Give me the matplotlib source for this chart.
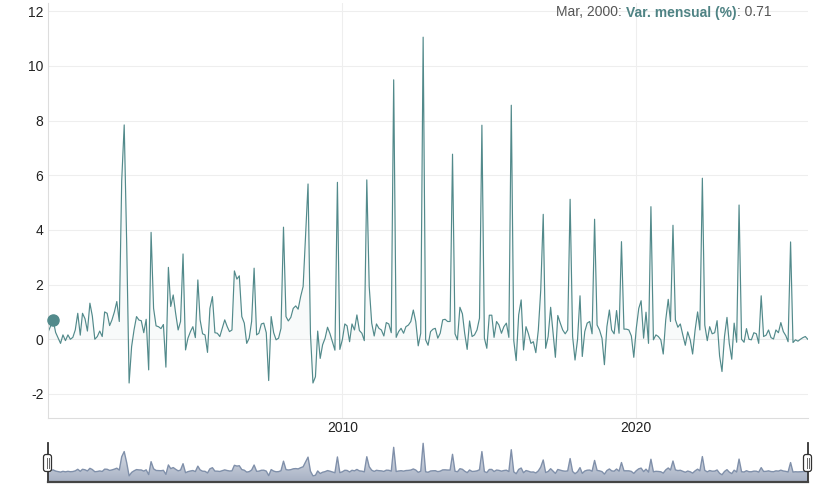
import numpy as np
import pandas as pd
import matplotlib
matplotlib.use("Agg")
import matplotlib.pyplot as plt
from matplotlib.patches import FancyBboxPatch, PathPatch
from matplotlib.colors import LinearSegmentedColormap
from matplotlib.transforms import IdentityTransform
import matplotlib.dates as mdates

plt.rcParams['font.family'] = ['Liberation Sans', 'DejaVu Sans']

# monthly change (%), one list per year, Jan..Dec
v2000 = [0.28, 0.5, 0.71, 0.25, 0.05, -0.15, 0.16, -0.05, 0.16, 0.0, 0.07, 0.34]
v2001 = [0.95, 0.15, 0.95, 0.75, 0.3, 1.32, 0.85, 0.0, 0.1, 0.3, 0.1, 1.0]
v2002 = [0.95, 0.5, 0.7, 1.0, 1.38, 0.65, 5.8, 7.84, 3.5, -1.6, -0.27, 0.34]
v2003 = [0.83, 0.7, 0.68, 0.24, 0.73, -1.12, 3.91, 1.13, 0.49, 0.46, 0.39, 0.54]
v2004 = [-1.02, 2.63, 1.2, 1.62, 0.95, 0.34, 0.65, 3.12, -0.39, 0.04, 0.28, 0.46]
v2005 = [0.06, 2.17, 0.71, 0.2, 0.16, -0.48, 1.13, 1.56, 0.24, 0.22, 0.1, 0.4]
v2006 = [0.71, 0.46, 0.28, 0.34, 2.5, 2.2, 2.32, 0.83, 0.59, -0.15, 0.04, 0.65]
v2007 = [2.6, 0.16, 0.22, 0.56, 0.59, 0.24, -1.51, 0.83, 0.24, -0.02, 0.04, 0.4]
v2008 = [4.1, 0.83, 0.67, 0.8, 1.13, 1.22, 1.1, 1.56, 1.93, 3.76, 5.68, 0.2]
v2009 = [-1.6, -1.37, 0.3, -0.7, -0.2, 0.04, 0.44, 0.2, -0.1, -0.4, 5.74, -0.37]
v2010 = [-0.02, 0.56, 0.49, -0.09, 0.56, 0.34, 0.89, 0.32, 0.22, -0.05, 5.83, 1.93]
v2011 = [0.59, 0.12, 0.56, 0.4, 0.34, 0.12, 0.61, 0.56, 0.24, 9.49, 0.07, 0.28]
v2012 = [0.4, 0.22, 0.46, 0.52, 0.65, 1.07, 0.65, -0.24, 0.22, 11.05, -0.02, -0.22]
v2013 = [0.28, 0.37, 0.4, 0.04, 0.22, 0.71, 0.73, 0.65, 0.65, 6.77, 0.2, -0.02]
v2014 = [1.17, 0.93, 0.22, -0.37, 0.67, 0.1, 0.16, 0.34, 0.77, 7.83, 0.04, -0.33]
v2015 = [0.88, 0.88, 0.07, 0.65, 0.52, 0.22, 0.46, 0.59, 0.07, 8.56, -0.05, -0.78]
v2016 = [0.89, 1.44, -0.39, 0.46, 0.2, -0.15, -0.09, -0.49, 0.34, 1.8, 4.57, -0.33]
v2017 = [0.1, 1.17, 0.3, -0.66, 0.87, 0.59, 0.34, 0.2, 0.34, 5.12, 0.1, -0.76]
v2018 = [-0.02, 1.59, -0.63, 0.28, 0.59, 0.65, 0.2, 4.39, 0.52, 0.34, 0.04, -0.93]
v2019 = [0.46, 1.07, 0.34, 0.2, 1.05, 0.22, 3.57, 0.37, 0.37, 0.34, 0.12, -0.66]
v2020 = [0.4, 1.13, 1.41, 0.04, 0.99, -0.15, 4.85, -0.02, 0.16, 0.1, -0.02, -0.54]
v2021 = [0.71, 1.46, 0.65, 4.17, 0.71, 0.44, 0.56, 0.16, -0.22, 0.27, -0.02, -0.54]
v2022 = [0.34, 1.0, 0.34, 5.89, 0.52, -0.05, 0.46, 0.2, 0.24, 0.68, -0.61, -1.18]
v2023 = [0.1, 0.8, -0.15, -0.73, 0.59, -0.11, 4.91, 0.0, -0.11, 0.39, 0.0, -0.02]
v2024 = [0.24, 0.2, -0.15, 1.59, 0.1, 0.15, 0.34, 0.06, 0.01, 0.34, 0.24, 0.61]
v2025 = [0.28, 0.13, -0.09, 3.56, -0.12, -0.02, -0.07, 0.0, 0.06, 0.1, 0.0]

years = [v2000, v2001, v2002, v2003, v2004, v2005, v2006, v2007, v2008,
         v2009, v2010, v2011, v2012, v2013, v2014, v2015, v2016, v2017,
         v2018, v2019, v2020, v2021, v2022, v2023, v2024, v2025]
var_mensual = np.array([v for yr in years for v in yr])
dates = pd.date_range("2000-01-01", periods=len(var_mensual), freq="MS")

yticks = [-2, 0, 2, 4, 6, 8, 10, 12]
xtick_years = [2010, 2020]
series_name = "Var. mensual (%)"
hl = 2  # highlighted point (Mar 2000)

teal = "#528a8b"
W, H = 825, 492

fig = plt.figure(figsize=(W / 100, H / 100), dpi=100)


def fx(px):
    return px / W


def fy(py):
    return 1 - py / H


left, right = 48.3, 807.8

# ---- main chart ----
ax = fig.add_axes([fx(left), fy(418), fx(right) - fx(left), fy(3) - fy(418)])
ax.fill_between(dates, var_mensual, 0, color=teal, alpha=0.04, lw=0)
ax.plot(dates, var_mensual, color=teal, lw=0.85)
ax.plot(dates[hl], var_mensual[hl], "o", ms=8, color=teal, zorder=5, clip_on=False)
ax.set_xlim(dates[0], dates[-1])
ax.set_ylim(-2.88, 12.3)
ax.set_yticks(yticks)
ax.set_yticklabels([str(t) for t in yticks])
ax.set_xticks([pd.Timestamp(f"{y}-01-01") for y in xtick_years])
ax.set_xticklabels([str(y) for y in xtick_years])
ax.grid(True, color="#eeeeee", lw=0.8)
ax.set_axisbelow(True)
for s in ["top", "right"]:
    ax.spines[s].set_visible(False)
for s in ["left", "bottom"]:
    ax.spines[s].set_color("#dddddd")
    ax.spines[s].set_linewidth(0.8)
ax.tick_params(axis="both", length=0, labelsize=10, labelcolor="#222222")
ax.tick_params(axis="y", pad=3.5)
ax.tick_params(axis="x", pad=2.5)

# ---- legend (hover text) ----
t1 = fig.text(fx(556), fy(16.5), "Mar, 2000:", fontsize=10, color="#555555",
              va="baseline", ha="left")
t2 = ax.annotate(series_name, xy=(1, 0), xycoords=t1, xytext=(3, 0),
                 textcoords="offset points", fontsize=10, fontweight="bold",
                 color="#4f8384", va="bottom", ha="left", annotation_clip=False)
t3 = ax.annotate(f": {var_mensual[hl]:.2f}", xy=(1, 0), xycoords=t2,
                 fontsize=10, color="#555555", va="bottom", ha="left",
                 annotation_clip=False)

# ---- range selector ----
mini_lo, mini_hi = -4.0, 11.95
ax2 = fig.add_axes([fx(left), fy(482), fx(right) - fx(left), fy(441) - fy(482)])
ax2.set_xlim(dates[0], dates[-1])
ax2.set_ylim(mini_lo, mini_hi)
ax2.axis("off")

poly = ax2.fill_between(dates, var_mensual, mini_lo, color="none", lw=0)
clip = PathPatch(poly.get_paths()[0], transform=ax2.transData,
                 facecolor="none", edgecolor="none")
ax2.add_patch(clip)
cmap = LinearSegmentedColormap.from_list("rs", ["#a6b0c3", "#e8ebf0"])
grad = np.linspace(0, 1, 256).reshape(-1, 1)
x0n, x1n = mdates.date2num(dates[0]), mdates.date2num(dates[-1])
im = ax2.imshow(grad, extent=[x0n, x1n, mini_lo, mini_hi], origin="lower",
                aspect="auto", cmap=cmap, zorder=1)
im.set_clip_path(clip)
ax2.plot(dates, var_mensual, color="#8090aa", lw=1.0, zorder=2)

edge_top = 11.2
ax2.plot([dates[0], dates[0]], [mini_lo, edge_top], color="#333333", lw=1.3,
         clip_on=False, zorder=3)
ax2.plot([dates[-1], dates[-1]], [mini_lo, edge_top], color="#333333", lw=1.3,
         clip_on=False, zorder=3)
ax2.plot([dates[0], dates[-1]], [mini_lo, mini_lo], color="#444444", lw=1.6,
         clip_on=False, zorder=3)

# handles, drawn in pixel coordinates
for cx in [47.5, 807.5]:
    cy = H - 463
    hw, hh = 8, 17
    box = FancyBboxPatch((cx - hw / 2, cy - hh / 2), hw, hh,
                         boxstyle="round,pad=0,rounding_size=2.5",
                         transform=IdentityTransform(), facecolor="white",
                         edgecolor="#333333", lw=0.9, zorder=10)
    fig.add_artist(box)
    for dx in [-1.0, 1.0]:
        fig.add_artist(plt.Line2D([cx + dx, cx + dx], [cy - 5, cy + 5],
                                  transform=IdentityTransform(),
                                  color="#666666", lw=0.7, zorder=11))

fig.savefig("out.png", dpi=100)
